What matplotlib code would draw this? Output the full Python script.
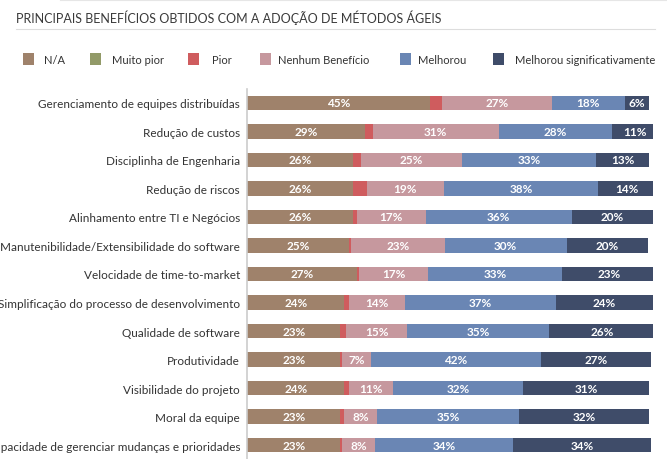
import matplotlib
matplotlib.use("Agg")
import matplotlib.pyplot as plt
from matplotlib import font_manager
from matplotlib.patches import Rectangle
from matplotlib.lines import Line2D

categories = [
    "Gerenciamento de equipes distribuídas",
    "Redução de custos",
    "Disciplinha de Engenharia",
    "Redução de riscos",
    "Alinhamento entre TI e Negócios",
    "Manutenibilidade/Extensibilidade do software",
    "Velocidade de time-to-market",
    "Simplificação do processo de desenvolvimento",
    "Qualidade de software",
    "Produtividade",
    "Visibilidade do projeto",
    "Moral da equipe",
    "Capacidade de gerenciar mudanças e prioridades",
]
series_names = ["N/A", "Muito pior", "Pior", "Nenhum Benefício", "Melhorou", "Melhorou significativamente"]
na = [45, 29, 26, 26, 26, 25, 27, 24, 23, 23, 24, 23, 23]
muito_pior = [0, 0, 0, 0, 0, 0, 0, 0, 0, 0, 0, 0, 0]
pior = [3, 2, 2, 3.5, 1, 0.7, 0.7, 1, 1.5, 0.5, 1, 1, 0.5]
nenhum = [27, 31, 25, 19, 17, 23, 17, 14, 15, 7, 11, 8, 8]
melhorou = [18, 28, 33, 38, 36, 30, 33, 37, 35, 42, 32, 35, 34]
melhorou_sig = [6, 11, 13, 14, 20, 20, 23, 24, 26, 27, 31, 32, 34]
title = "PRINCIPAIS BENEFÍCIOS OBTIDOS COM A ADOÇÃO DE MÉTODOS ÁGEIS"

colors = ["#9f826b", "#929a68", "#cf5c5e", "#c6989e", "#6a86b4", "#3f4c69"]

available = {f.name for f in font_manager.fontManager.ttflist}
def pick(cands):
    for c in cands:
        if c in available:
            return c
    return "DejaVu Sans"
body_font = pick(["Lato", "Open Sans", "Noto Sans", "DejaVu Sans"])

plt.rcParams["font.family"] = [body_font, "DejaVu Sans"]

W, H = 667, 460
fig = plt.figure(figsize=(W / 100, H / 100), dpi=100)
fig.patch.set_facecolor("white")

# Title and underline
fig.text(16 / W, 1 - 18 / H, title, fontsize=9, color="#3a3a3a",
         va="center", ha="left")
fig.add_artist(Line2D([16 / W, 655 / W], [1 - 30 / H, 1 - 30 / H], color="#dddddd", lw=0.8))
fig.add_artist(Line2D([60 / W, 667 / W], [1 - 1 / H, 1 - 1 / H], color="#e6e6e6", lw=0.8))

# Legend
leg_sq = [23, 90, 188, 260, 400, 493]
leg_tx = [44, 112, 212, 278, 418, 515]
ly = 1 - 60 / H
for name, c, sx, tx in zip(series_names, colors, leg_sq, leg_tx):
    fig.add_artist(Rectangle((sx / W, ly - 6 / H), 11 / W, 12 / H, facecolor=c, edgecolor="none",
                             transform=fig.transFigure))
    fig.text(tx / W, ly, name, fontsize=8, color="#333333", va="center", ha="left")

# Axes
ax = fig.add_axes([247 / W, 0, (653 - 247) / W, 1 - 90 / H])
n = len(categories)
ys = list(range(n))
series = [na, muito_pior, pior, nenhum, melhorou, melhorou_sig]
left = [0.0] * n
for idx, (vals, c) in enumerate(zip(series, colors)):
    ax.barh(ys, vals, left=left, height=0.5, color=c, edgecolor="none")
    for i, v in enumerate(vals):
        if v >= 5:
            ax.text(left[i] + v / 2, ys[i], f"{v:g}%", ha="center", va="center", color="white",
                    fontsize=8.5, fontweight="bold")
    left = [l + v for l, v in zip(left, vals)]

ax.set_xlim(0, 100)
ax.set_ylim(12.49, -0.49)
ax.set_yticks(ys)
ax.set_yticklabels(categories, fontsize=8.5, color="#333333")
ax.tick_params(axis="y", length=0, pad=5)
ax.set_xticks([])
for s in ["top", "right", "bottom"]:
    ax.spines[s].set_visible(False)
ax.spines["left"].set_color("#cccccc")
ax.spines["left"].set_linewidth(1.2)

fig.savefig("out.png", dpi=100, facecolor="white")
